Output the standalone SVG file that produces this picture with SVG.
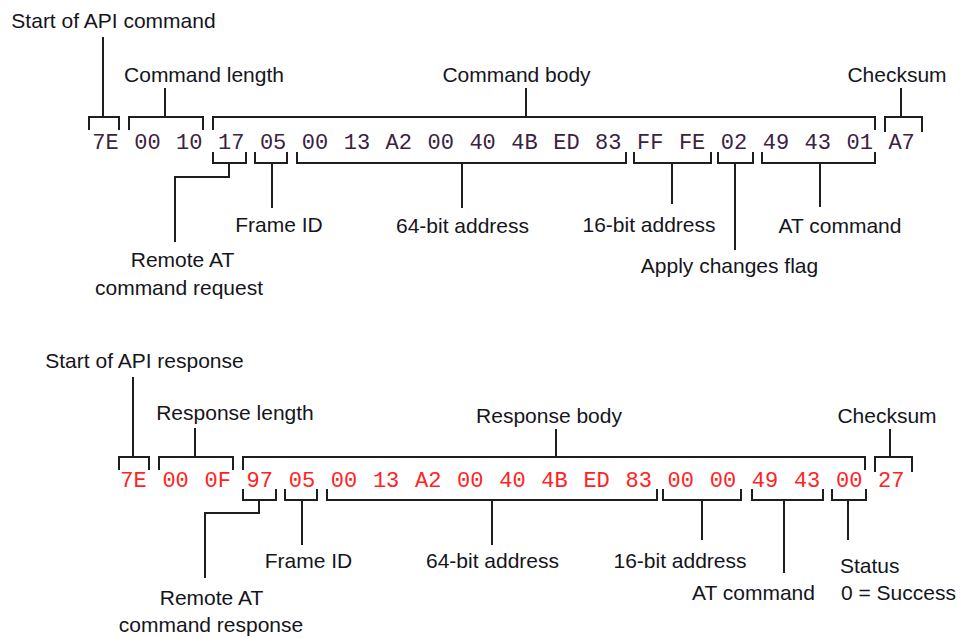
<svg xmlns="http://www.w3.org/2000/svg" width="967" height="639" viewBox="0 0 967 639">
  <style>
    .lbl { font-family: "Liberation Sans", Arial, sans-serif; font-size: 21px; fill: #15151c; text-anchor: middle; }
    .lbl.left { text-anchor: start; }
    .hex { font-family: "Liberation Mono", "Courier New", monospace; font-size: 22px; text-anchor: middle; }
    .cmd { fill: #3a2240; }
    .rsp { fill: #ff2222; }
    .wire { fill: none; stroke: #1e1e1e; stroke-width: 2; stroke-linejoin: miter; }
  </style>
  <rect width="967" height="639" fill="#ffffff"/>

  <!-- Frame bytes: remote AT command request -->
  <g id="request-bytes">
    <text class="hex cmd" y="148.5"><tspan x="105.5">7E</tspan><tspan x="147.4">00</tspan><tspan x="189.3">10</tspan><tspan x="231.2">17</tspan><tspan x="273.1">05</tspan><tspan x="315">00</tspan><tspan x="356.9">13</tspan><tspan x="398.8">A2</tspan><tspan x="440.7">00</tspan><tspan x="482.6">40</tspan><tspan x="524.5">4B</tspan><tspan x="566.4">ED</tspan><tspan x="608.3">83</tspan><tspan x="650.2">FF</tspan><tspan x="692.1">FE</tspan><tspan x="734">02</tspan><tspan x="775.9">49</tspan><tspan x="817.8">43</tspan><tspan x="859.7">01</tspan><tspan x="901.6">A7</tspan></text>
  </g>

  <!-- Frame bytes: remote AT command response -->
  <g id="response-bytes">
    <text class="hex rsp" y="487"><tspan x="133.5">7E</tspan><tspan x="175.6">00</tspan><tspan x="217.7">0F</tspan><tspan x="259.8">97</tspan><tspan x="301.9">05</tspan><tspan x="344">00</tspan><tspan x="386.1">13</tspan><tspan x="428.2">A2</tspan><tspan x="470.3">00</tspan><tspan x="512.4">40</tspan><tspan x="554.5">4B</tspan><tspan x="596.6">ED</tspan><tspan x="638.7">83</tspan><tspan x="680.8">00</tspan><tspan x="722.9">00</tspan><tspan x="765">49</tspan><tspan x="807.1">43</tspan><tspan x="849.2">00</tspan><tspan x="891.3">27</tspan></text>
  </g>

  <!-- Field labels, request -->
  <g id="req-start"><text class="lbl" x="113.5" y="28">Start of API command</text></g>
  <g id="req-length"><text class="lbl" x="204" y="82">Command length</text></g>
  <g id="req-body"><text class="lbl" x="516.5" y="82">Command body</text></g>
  <g id="req-checksum"><text class="lbl" x="897" y="82">Checksum</text></g>
  <g id="req-frame-type"><text class="lbl" x="182.5" y="267">Remote AT</text><text class="lbl" x="179" y="295">command request</text></g>
  <g id="req-frame-id"><text class="lbl" x="279" y="232">Frame ID</text></g>
  <g id="req-addr64"><text class="lbl" x="462.5" y="233">64-bit address</text></g>
  <g id="req-addr16"><text class="lbl" x="649" y="232">16-bit address</text></g>
  <g id="req-options"><text class="lbl" x="729.5" y="273">Apply changes flag</text></g>
  <g id="req-at"><text class="lbl" x="840" y="233">AT command</text></g>

  <!-- Field labels, response -->
  <g id="rsp-start"><text class="lbl" x="144.5" y="368">Start of API response</text></g>
  <g id="rsp-length"><text class="lbl" x="235" y="420">Response length</text></g>
  <g id="rsp-body"><text class="lbl" x="549" y="423">Response body</text></g>
  <g id="rsp-checksum"><text class="lbl" x="887" y="423">Checksum</text></g>
  <g id="rsp-frame-type"><text class="lbl" x="211.5" y="605">Remote AT</text><text class="lbl" x="211" y="632">command response</text></g>
  <g id="rsp-frame-id"><text class="lbl" x="308.5" y="568">Frame ID</text></g>
  <g id="rsp-addr64"><text class="lbl" x="492.5" y="568">64-bit address</text></g>
  <g id="rsp-addr16"><text class="lbl" x="680" y="568">16-bit address</text></g>
  <g id="rsp-at"><text class="lbl" x="753.5" y="600">AT command</text></g>
  <g id="rsp-status"><text class="lbl left" x="840" y="573">Status</text><text class="lbl left" x="841" y="600">0 = Success</text></g>

  <!-- Brackets and leader lines -->
  <g id="connectors" class="wire">
    <!-- request, above -->
    <path d="M89,130 V117 H119 V130"/>
    <path d="M129,130 V117 H203 V130"/>
    <path d="M213,130 V117 H875 V130"/>
    <path d="M885,132 V117 H922 V132"/>
    <path d="M103,117 V37"/>
    <path d="M165,117 V88"/>
    <path d="M526,117 V88"/>
    <path d="M901,117 V88"/>
    <!-- request, below -->
    <path d="M213,152 V163 H246 V152"/>
    <path d="M255,152 V163 H287 V152"/>
    <path d="M297,152 V163 H626 V152"/>
    <path d="M634,152 V163 H711 V152"/>
    <path d="M718,152 V163 H753 V152"/>
    <path d="M762,152 V163 H875 V152"/>
    <path d="M229,163 V177 H175 V242"/>
    <path d="M272,163 V208"/>
    <path d="M462,163 V208"/>
    <path d="M672,163 V204"/>
    <path d="M735,163 V250"/>
    <path d="M820,163 V207"/>
    <!-- response, above -->
    <path d="M119,470 V457 H149 V470"/>
    <path d="M159,470 V457 H233 V470"/>
    <path d="M243,470 V457 H865 V470"/>
    <path d="M875,472 V457 H912 V472"/>
    <path d="M133,457 V377"/>
    <path d="M195,457 V428"/>
    <path d="M556,457 V429"/>
    <path d="M890,457 V429"/>
    <!-- response, below -->
    <path d="M243,489 V500 H276 V489"/>
    <path d="M285,489 V500 H317 V489"/>
    <path d="M327,489 V500 H657 V489"/>
    <path d="M663,489 V500 H741 V489"/>
    <path d="M752,489 V500 H823 V489"/>
    <path d="M832,489 V500 H866 V489"/>
    <path d="M259,500 V513 H205 V578"/>
    <path d="M302,500 V545"/>
    <path d="M492,500 V545"/>
    <path d="M702,500 V540"/>
    <path d="M784,500 V573"/>
    <path d="M848,500 V540"/>
  </g>
</svg>
